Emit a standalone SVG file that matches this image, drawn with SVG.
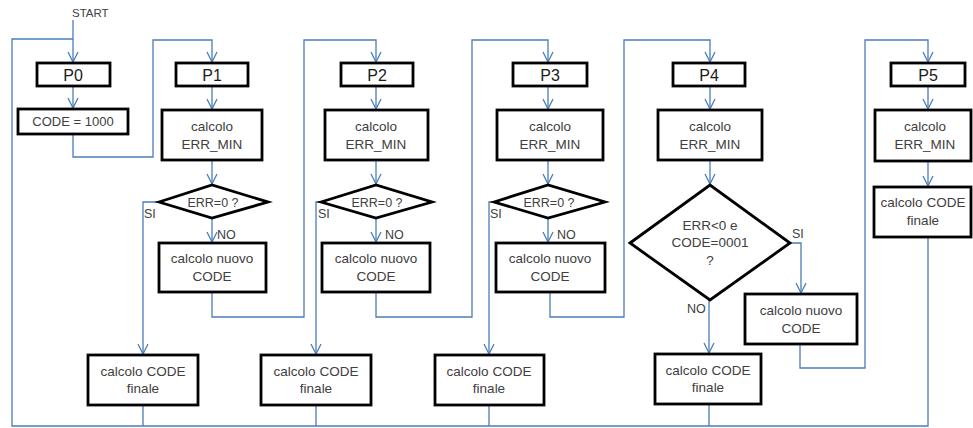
<svg xmlns="http://www.w3.org/2000/svg" width="973" height="428" viewBox="0 0 973 428">
  <style>
    .box { fill: #ffffff; stroke: #000000; stroke-width: 2.8; }
    .wire { fill: none; stroke: #4A7EBB; stroke-width: 1.3; }
    .arr { marker-end: url(#vhead); }
    text { font-family: "Liberation Sans", Arial, sans-serif; fill: #404040; }
    .t { font-size: 13.5px; text-anchor: middle; }
    .p { font-size: 16px; text-anchor: middle; fill: #1a1a1a; }
    .lbl { font-size: 12.5px; }
  </style>
  <defs>
    <marker id="vhead" viewBox="0 0 12 12" refX="11" refY="6" markerWidth="12" markerHeight="12" markerUnits="userSpaceOnUse" orient="auto">
      <path d="M1,1 L11,6 L1,11" fill="none" stroke="#4A7EBB" stroke-width="1.3"/>
    </marker>
  </defs>

  <!-- connectors -->
  <g id="connectors">
    <!-- start and return loop -->
    <path class="wire arr" d="M73,20 V62"/>
    <path class="wire" d="M928,237 V426 H12 V39 H73"/>
    <path class="wire" d="M143,405 V426 M316,405 V426 M489,405 V426 M709,404 V426"/>
    <!-- P0 column -->
    <path class="wire arr" d="M73,86 V108"/>
    <path class="wire arr" d="M73,134 V157 H153 V40 H212 V62"/>
    <!-- P1 column -->
    <path class="wire arr" d="M212,86 V109"/>
    <path class="wire arr" d="M212,160 V184"/>
    <path class="wire arr" d="M212,218 V242"/>
    <path class="wire arr" d="M159,202 H143 V354"/>
    <path class="wire arr" d="M212,292 V317 H304 V40 H376 V62"/>
    <!-- P2 column -->
    <path class="wire arr" d="M376,86 V109"/>
    <path class="wire arr" d="M376,160 V184"/>
    <path class="wire arr" d="M376,218 V242"/>
    <path class="wire arr" d="M321,202 H316 V354"/>
    <path class="wire arr" d="M376,292 V317 H472 V40 H548 V62"/>
    <!-- P3 column -->
    <path class="wire arr" d="M548,86 V109"/>
    <path class="wire arr" d="M548,160 V184"/>
    <path class="wire arr" d="M548,218 V242"/>
    <path class="wire arr" d="M494,202 H489 V354"/>
    <path class="wire arr" d="M550,292 V317 H624 V40 H710 V62"/>
    <!-- P4 column -->
    <path class="wire arr" d="M710,86 V109"/>
    <path class="wire arr" d="M710,160 V184"/>
    <path class="wire arr" d="M790,243 H801 V293"/>
    <path class="wire arr" d="M709,300 V353"/>
    <path class="wire arr" d="M800,344 V368 H865 V40 H928 V62"/>
    <!-- P5 column -->
    <path class="wire arr" d="M928,86 V109"/>
    <path class="wire arr" d="M928,161 V186"/>
  </g>

  <text x="72" y="17" style="font-size:11.5px">START</text>

  <!-- P0 -->
  <g id="p0">
    <rect class="box" x="37" y="63" width="73" height="23"/>
    <text class="p" x="73" y="81">P0</text>
  </g>
  <g id="code1000">
    <rect class="box" x="18" y="109" width="110" height="25"/>
    <text class="t" x="73" y="126" style="font-size:13px">CODE = 1000</text>
  </g>

  <!-- P1 -->
  <g id="p1">
    <rect class="box" x="176" y="63" width="72" height="23"/>
    <text class="p" x="212" y="81">P1</text>
  </g>
  <g id="p1-errmin">
    <rect class="box" x="162" y="110" width="100" height="50"/>
    <text class="t" x="212" y="131">calcolo</text>
    <text class="t" x="212" y="149">ERR_MIN</text>
  </g>
  <g id="p1-test">
    <polygon class="box" points="159,202 212,185 268,202 212,218"/>
    <text class="t" x="213" y="207" style="font-size:12.5px">ERR=0 ?</text>
    <text class="lbl" x="144" y="218">SI</text>
    <text class="lbl" x="217" y="239">NO</text>
  </g>
  <g id="p1-nuovo">
    <rect class="box" x="159" y="243" width="107" height="49"/>
    <text class="t" x="212" y="263">calcolo nuovo</text>
    <text class="t" x="212" y="281">CODE</text>
  </g>
  <g id="p1-finale">
    <rect class="box" x="88" y="355" width="110" height="50"/>
    <text class="t" x="143" y="376">calcolo CODE</text>
    <text class="t" x="143" y="393">finale</text>
  </g>

  <!-- P2 -->
  <g id="p2">
    <rect class="box" x="341" y="63" width="72" height="23"/>
    <text class="p" x="377" y="81">P2</text>
  </g>
  <g id="p2-errmin">
    <rect class="box" x="325" y="110" width="103" height="50"/>
    <text class="t" x="376" y="131">calcolo</text>
    <text class="t" x="376" y="149">ERR_MIN</text>
  </g>
  <g id="p2-test">
    <polygon class="box" points="321,202 376,185 432,202 376,218"/>
    <text class="t" x="377" y="207" style="font-size:12.5px">ERR=0 ?</text>
    <text class="lbl" x="318" y="218">SI</text>
    <text class="lbl" x="385" y="239">NO</text>
  </g>
  <g id="p2-nuovo">
    <rect class="box" x="322" y="243" width="108" height="49"/>
    <text class="t" x="376" y="263">calcolo nuovo</text>
    <text class="t" x="376" y="281">CODE</text>
  </g>
  <g id="p2-finale">
    <rect class="box" x="261" y="355" width="110" height="50"/>
    <text class="t" x="316" y="376">calcolo CODE</text>
    <text class="t" x="316" y="393">finale</text>
  </g>

  <!-- P3 -->
  <g id="p3">
    <rect class="box" x="513" y="63" width="74" height="23"/>
    <text class="p" x="550" y="81">P3</text>
  </g>
  <g id="p3-errmin">
    <rect class="box" x="497" y="110" width="106" height="50"/>
    <text class="t" x="550" y="131">calcolo</text>
    <text class="t" x="550" y="149">ERR_MIN</text>
  </g>
  <g id="p3-test">
    <polygon class="box" points="494,202 548,185 605,202 548,218"/>
    <text class="t" x="549" y="207" style="font-size:12.5px">ERR=0 ?</text>
    <text class="lbl" x="490" y="218">SI</text>
    <text class="lbl" x="557" y="239">NO</text>
  </g>
  <g id="p3-nuovo">
    <rect class="box" x="496" y="243" width="109" height="49"/>
    <text class="t" x="550" y="263">calcolo nuovo</text>
    <text class="t" x="550" y="281">CODE</text>
  </g>
  <g id="p3-finale">
    <rect class="box" x="435" y="355" width="109" height="50"/>
    <text class="t" x="489" y="376">calcolo CODE</text>
    <text class="t" x="489" y="393">finale</text>
  </g>

  <!-- P4 -->
  <g id="p4">
    <rect class="box" x="673" y="63" width="72" height="23"/>
    <text class="p" x="709" y="81">P4</text>
  </g>
  <g id="p4-errmin">
    <rect class="box" x="658" y="110" width="104" height="50"/>
    <text class="t" x="710" y="131">calcolo</text>
    <text class="t" x="710" y="149">ERR_MIN</text>
  </g>
  <g id="p4-test">
    <polygon class="box" points="630,243 710,185 790,243 710,300"/>
    <text class="t" x="710" y="230">ERR&lt;0 e</text>
    <text class="t" x="710" y="247">CODE=0001</text>
    <text class="t" x="710" y="265">?</text>
    <text class="lbl" x="792" y="238">SI</text>
    <text class="lbl" x="687" y="313">NO</text>
  </g>
  <g id="p4-nuovo">
    <rect class="box" x="745" y="294" width="112" height="50"/>
    <text class="t" x="801" y="315">calcolo nuovo</text>
    <text class="t" x="801" y="333">CODE</text>
  </g>
  <g id="p4-finale">
    <rect class="box" x="655" y="354" width="106" height="50"/>
    <text class="t" x="708" y="375">calcolo CODE</text>
    <text class="t" x="708" y="392">finale</text>
  </g>

  <!-- P5 -->
  <g id="p5">
    <rect class="box" x="891" y="63" width="74" height="23"/>
    <text class="p" x="928" y="81">P5</text>
  </g>
  <g id="p5-errmin">
    <rect class="box" x="875" y="110" width="96" height="51"/>
    <text class="t" x="925" y="131">calcolo</text>
    <text class="t" x="925" y="149">ERR_MIN</text>
  </g>
  <g id="p5-finale">
    <rect class="box" x="874" y="187" width="97" height="50"/>
    <text class="t" x="923" y="207">calcolo CODE</text>
    <text class="t" x="923" y="225">finale</text>
  </g>
</svg>
